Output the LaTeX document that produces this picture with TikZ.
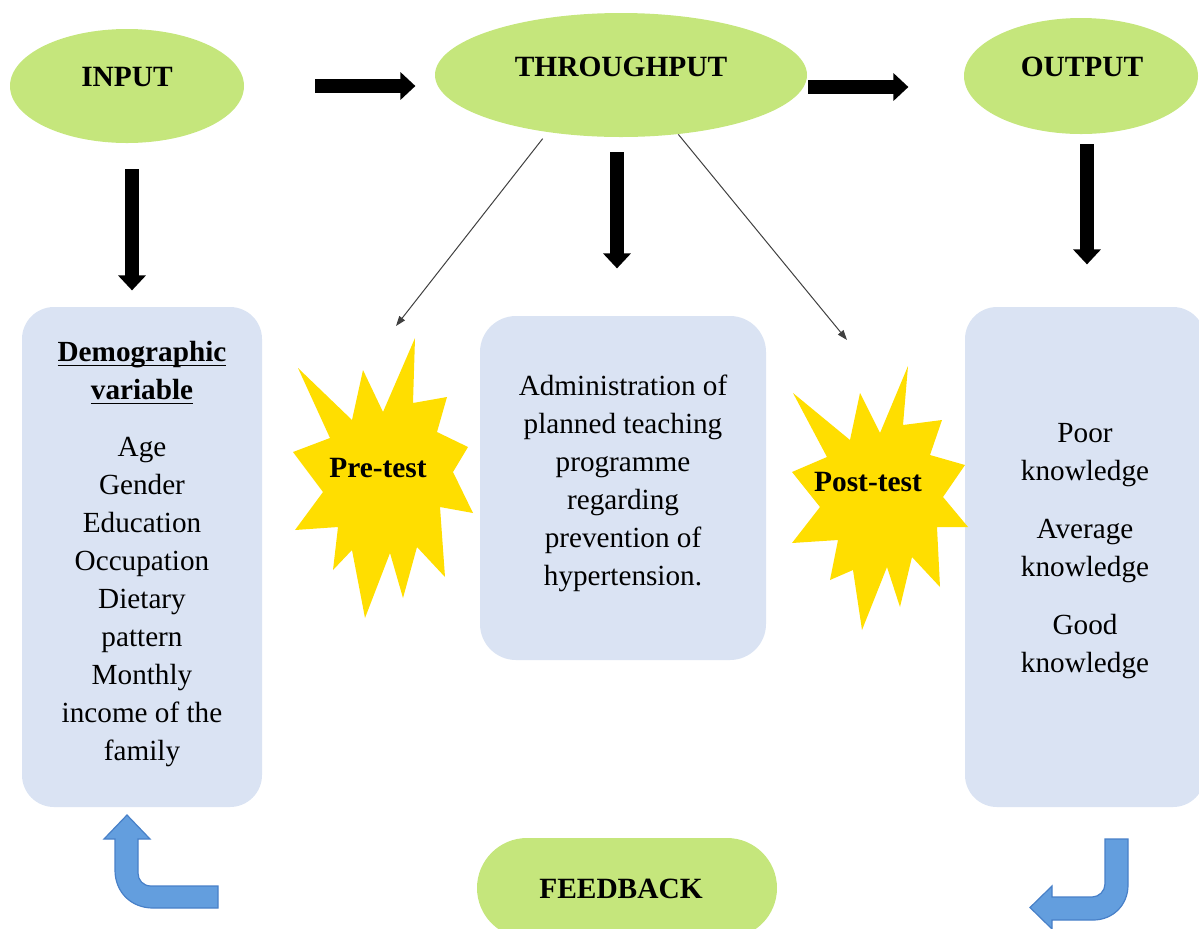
\documentclass[tikz,border=0pt]{standalone}
\usepackage{fontspec}
\setmainfont{Liberation Serif}
\usetikzlibrary{shapes.geometric,arrows.meta,calc}
\definecolor{ovalgreen}{RGB}{197,230,124}
\definecolor{boxblue}{RGB}{218,227,243}
\definecolor{stargold}{RGB}{255,222,0}
\definecolor{bentfill}{RGB}{99,158,222}
\definecolor{bentline}{RGB}{72,128,200}
\newcommand\myul[1]{\setbox0\hbox{#1}\rlap{\rule[-2.2pt]{\wd0}{0.6pt}}\box0}
\begin{document}
\begin{tikzpicture}[x=0.5pt,y=-0.5pt,
  oval/.style={ellipse, fill=ovalgreen, inner sep=0pt},
  panel/.style={rectangle, rounded corners=16pt, fill=boxblue, inner sep=0pt},
  bigarrow/.style={line width=7pt, -{Triangle[length=7.5pt,width=13.5pt]}},
  thinarrow/.style={line width=0.5pt, draw=black!75, -{Triangle[length=5pt,width=3.5pt]}},
  lbl/.style={font=\fontsize{14.6}{19}\selectfont, align=center, inner sep=0pt},
  hdr/.style={font=\fontsize{14.7}{17}\selectfont\bfseries, inner sep=0pt},
  bent/.style={fill=bentfill, draw=bentline, line width=0.6pt},
  burst/.style={fill=stargold}]
\useasboundingbox (0,0) rectangle (1199,928);

% ovals
\node[oval, minimum width=117pt, minimum height=57pt] (input) at (127,86) {};
\node[hdr] (inputtxt) at (127,77) {INPUT};
\node[oval, minimum width=186pt, minimum height=62pt] (through) at (621,75) {};
\node[hdr] (throughtxt) at (621,67) {THROUGHPUT};
\node[oval, minimum width=117pt, minimum height=58pt] (output) at (1081,76) {};
\node[hdr] (outputtxt) at (1082,67) {OUTPUT};

% panels
\node[panel, minimum width=120pt, minimum height=250pt] (demo) at (142,557) {};
\node[panel, minimum width=143pt, minimum height=172pt, rounded corners=18pt] (admin) at (623,488) {};
\node[panel, minimum width=120pt, minimum height=250pt] (result) at (1085,557) {};

\node[lbl] (demotxt) at (142,554) {\textbf{\myul{Demographic}}\\\textbf{\myul{variable}}\\[9.5pt]Age\\Gender\\Education\\Occupation\\Dietary\\pattern\\Monthly\\income of the\\family};
\node[lbl] (admintxt) at (623,483) {Administration of\\planned teaching\\programme\\regarding\\prevention of\\hypertension.};
\node[lbl] (resulttxt) at (1085,551) {Poor\\knowledge\\[10pt]Average\\knowledge\\[10pt]Good\\knowledge};

% bursts
\fill[burst] (415,338) -- (413,403) -- (447,397) -- (437,432) -- (468,447) -- (453,472)
  -- (473,513) -- (440,507) -- (445,577) -- (417,547) -- (403,598) -- (390,553)
  -- (365,618) -- (352,550) -- (333,570) -- (338,527) -- (295,530) -- (323,492)
  -- (293,452) -- (330,438) -- (298,368) -- (352,420) -- (363,370) -- (383,412) -- cycle;
\node[hdr] (pre) at (378,468) {Pre-test};

\fill[burst] (908,366) -- (903,425) -- (942,420) -- (930,455) -- (965,465) -- (943,497)
  -- (968,527) -- (937,527) -- (940,587) -- (912,557) -- (900,607) -- (887,567)
  -- (862,630) -- (853,570) -- (830,580) -- (838,540) -- (792,543) -- (820,507)
  -- (792,472) -- (827,457) -- (793,393) -- (850,440) -- (860,393) -- (880,433) -- cycle;
\node[hdr] (post) at (868,482) {Post-test};

% feedback
\node[rectangle, rounded corners=25pt, fill=ovalgreen, minimum width=150pt, minimum height=50pt, inner sep=0pt] (feedback) at (627,888) {};
\node[hdr] (feedbacktxt) at (621,889) {FEEDBACK};

% thick arrows
\draw[bigarrow] ([xshift=35.5pt]input.east) -- ++(50pt,0);
\draw[bigarrow] ([xshift=0.5pt,yshift=-6pt]through.east) -- ++(50pt,0);
\draw[bigarrow] ([xshift=2.5pt,yshift=-13pt]input.south) -- ++(0,-60.5pt);
\draw[bigarrow] ([xshift=-2pt,yshift=-7.5pt]through.south) -- ++(0,-58pt);
\draw[bigarrow] ([xshift=3pt,yshift=-5pt]output.south) -- ++(0,-60pt);

% thin arrows
\coordinate (pretip) at (396,326);
\coordinate (posttip) at (847,340);
\draw[thinarrow, shorten <=4pt] (through.218) -- (pretip);
\draw[thinarrow] (through.314) -- (posttip);

% bent arrows
\draw[bent] (127,815) -- (150,839) -- (138,839) -- (138,873)
  .. controls (138,880) and (143,886) .. (151,886) -- (218,886) -- (218,908)
  -- (153,908) .. controls (131,908) and (115,892) .. (115,870) -- (115,839) -- (104,839) -- cycle;
\draw[bent] (1105,839) -- (1128,839) -- (1128,885)
  .. controls (1128,905) and (1113,920) .. (1093,920) -- (1052,920) -- (1052,929)
  -- (1030,907.5) -- (1052,886) -- (1052,897) -- (1092,897)
  .. controls (1099,897) and (1105,891) .. (1105,884) -- cycle;
\end{tikzpicture}
\end{document}
